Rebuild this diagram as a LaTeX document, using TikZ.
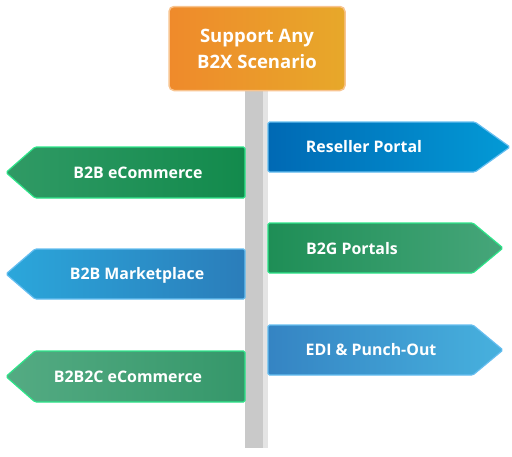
\documentclass[tikz,border=0pt]{standalone}
\usepackage{fontspec}
\setmainfont{Open Sans}
\definecolor{poledark}{HTML}{C9C9C9}
\definecolor{polelight}{HTML}{E4E4E4}
\definecolor{orangeA}{HTML}{EF8A2B}
\definecolor{orangeB}{HTML}{E7A82A}
\definecolor{orangeline}{HTML}{F8C490}
\definecolor{greenline}{HTML}{2EE58A}
\definecolor{blueline}{HTML}{66BEF0}
\definecolor{resellerA}{HTML}{0069B4}
\definecolor{resellerB}{HTML}{039AD6}
\definecolor{btogA}{HTML}{1E8E56}
\definecolor{btogB}{HTML}{46A67A}
\definecolor{ediA}{HTML}{3584C3}
\definecolor{ediB}{HTML}{47B1DE}
\definecolor{ecomA}{HTML}{309A65}
\definecolor{ecomB}{HTML}{128A4C}
\definecolor{marketA}{HTML}{2BA7DB}
\definecolor{marketB}{HTML}{2B7DBA}
\definecolor{btobtocA}{HTML}{54AB83}
\definecolor{btobtocB}{HTML}{35976A}
\tikzset{
  signtext/.style={text=white, font=\fontsize{15.9}{18}\selectfont\bfseries},
  signbox/.style={line width=1.2pt, rounded corners=1.5pt},
}
\begin{document}
\begin{tikzpicture}[x=1pt,y=-1pt]
  \useasboundingbox (0,0) rectangle (512,456);
  % pole
  \fill[poledark] (245,90) rectangle (263,448);
  \fill[polelight] (263,90) rectangle (268,448);
  % top sign
  \node[draw=orangeline, line width=1.5pt, rounded corners=5pt,
    left color=orangeA, right color=orangeB,
    minimum width=176pt, minimum height=84pt, align=center,
    text=white, font=\fontsize{18.5}{26}\selectfont\bfseries] (top) at (257,48.5)
    {Support Any\\B2X Scenario};
  % right signs
  \path[signbox, draw=blueline, left color=resellerA, right color=resellerB]
    (268,122) -- (475,122) -- (510,147) -- (475,172) -- (268,172) -- cycle;
  \node[signtext] (reseller) at (364,147) {Reseller Portal};
  \path[signbox, draw=greenline, left color=btogA, right color=btogB]
    (268,223) -- (473,223) -- (503,248) -- (473,273) -- (268,273) -- cycle;
  \node[signtext] (btog) at (352,248.5) {B2G Portals};
  \path[signbox, draw=blueline, left color=ediA, right color=ediB]
    (268,325) -- (473,325) -- (503,350) -- (473,375) -- (268,375) -- cycle;
  \node[signtext] (edi) at (371,350) {EDI \& Punch-Out};
  % left signs
  \path[signbox, draw=greenline, left color=ecomA, right color=ecomB]
    (245,147) -- (35,147) -- (6,172.5) -- (35,198) -- (245,198) -- cycle;
  \node[signtext] (ecom) at (138,173) {B2B eCommerce};
  \path[signbox, draw=blueline, left color=marketA, right color=marketB]
    (245,249) -- (35,249) -- (6,274) -- (35,299) -- (245,299) -- cycle;
  \node[signtext] (market) at (137,275) {B2B Marketplace};
  \path[signbox, draw=greenline, left color=btobtocA, right color=btobtocB]
    (245,351) -- (35,351) -- (6,376.5) -- (35,402) -- (245,402) -- cycle;
  \node[signtext] (btobtoc) at (128,376.5) {B2B2C eCommerce};
\end{tikzpicture}
\end{document}
